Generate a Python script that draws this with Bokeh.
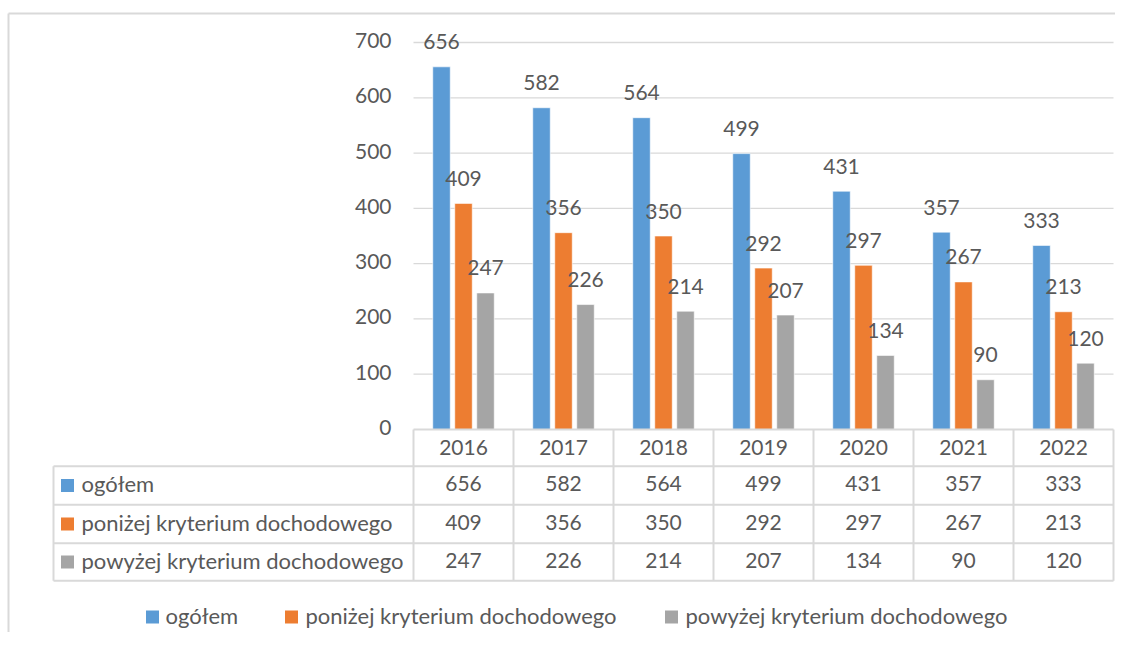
from bokeh.plotting import figure
from bokeh.models import Range1d
from bokeh.core.properties import value
from bokeh.embed import file_html
from bokeh.resources import INLINE

# ---- data ----
years = ["2016", "2017", "2018", "2019", "2020", "2021", "2022"]
series_names = ["ogółem", "poniżej kryterium dochodowego", "powyżej kryterium dochodowego"]
ogolem = [656, 582, 564, 499, 431, 357, 333]
ponizej = [409, 356, 350, 292, 297, 267, 213]
powyzej = [247, 226, 214, 207, 134, 90, 120]
y_ticks = [0, 100, 200, 300, 400, 500, 600, 700]

colors = ["#5B9BD5", "#ED7D31", "#A5A5A5"]
series = [ogolem, ponizej, powyzej]

FONT = value("Lato")
FS_NUM = "21px"
FS_LBL = "22px"
TXT = "#595959"
LINE = "#D9D9D9"

W, H = 1115, 632
ORIGIN = 0.0               # page position of canvas origin
S = 387.0 / 700.0          # px per value unit
def X(px):
    return (px - 413.0) / 100.0
def Y(py):
    return (429.0 - py) / S

p = figure(width=W, height=H, output_backend="svg", toolbar_location=None,
           x_range=Range1d(X(ORIGIN), X(ORIGIN + W)), y_range=Range1d(Y(ORIGIN + H), Y(ORIGIN)),
           min_border=0, min_border_left=0, min_border_right=0,
           min_border_top=0, min_border_bottom=0)
p.axis.visible = False
p.grid.visible = False
p.outline_line_color = None
p.background_fill_color = "white"
p.border_fill_color = "white"

n = len(years)
centers = [i + 0.5 for i in range(n)]

# outer chart border (left and top)
p.segment(x0=[X(8), X(8)], y0=[Y(13), Y(13)], x1=[X(8), X(ORIGIN + W)], y1=[Y(ORIGIN + H), Y(13)],
          line_color=LINE, line_width=2)

# gridlines
grid_vals = [t for t in y_ticks if t > 0]
p.segment(x0=[0] * len(grid_vals), x1=[n] * len(grid_vals), y0=grid_vals, y1=grid_vals,
          line_color=LINE, line_width=1.3)

# y tick labels
p.text(x=[X(391)] * len(y_ticks), y=y_ticks, text=[str(t) for t in y_ticks],
       text_align="right", text_baseline="middle", y_offset=-2, text_font=FONT,
       text_font_size=FS_NUM, text_color=TXT)

# bars + value labels
offsets = [-0.22, 0.0, 0.22]
for vals, col, off in zip(series, colors, offsets):
    xs = [c + off for c in centers]
    p.vbar(x=xs, top=vals, bottom=0, width=0.175, fill_color=col, line_color="white",
           line_width=0.6)
    p.text(x=xs, y=vals, text=[str(v) for v in vals], text_align="center",
           text_baseline="alphabetic", y_offset=-25, text_font=FONT,
           text_font_size=FS_NUM, text_color=TXT)

# ---- data table ----
row_tops = [429.0, 465.7, 504.3, 542.7, 580.3]
p.segment(x0=[0], x1=[n], y0=[0], y1=[0], line_color=LINE, line_width=2)
for ry in row_tops[1:]:
    p.segment(x0=[X(53)], x1=[n], y0=[Y(ry)], y1=[Y(ry)], line_color=LINE, line_width=2)
for i in range(n + 1):
    p.segment(x0=[i], x1=[i], y0=[Y(row_tops[0])], y1=[Y(row_tops[-1])],
              line_color=LINE, line_width=2)
p.segment(x0=[X(53)], x1=[X(53)], y0=[Y(row_tops[1])], y1=[Y(row_tops[-1])],
          line_color=LINE, line_width=2)

hdr_y = Y((row_tops[0] + row_tops[1]) / 2 - 0.5)
p.text(x=centers, y=[hdr_y] * n, text=years, text_align="center", text_baseline="middle",
       text_font=FONT, text_font_size=FS_NUM, text_color=TXT)

for r, (vals, col, name) in enumerate(zip(series, colors, series_names)):
    cy = (row_tops[r + 1] + row_tops[r + 2]) / 2
    p.text(x=centers, y=[Y(cy - 2)] * n, text=[str(v) for v in vals], text_align="center",
           text_baseline="middle", text_font=FONT, text_font_size=FS_NUM, text_color=TXT)
    p.rect(x=[X(67)], y=[Y(cy)], width=13, height=13, width_units="screen",
           height_units="screen", fill_color=col, line_color=None)
    p.text(x=[X(81)], y=[Y(cy - 2)], text=[name], text_align="left", text_baseline="middle",
           text_font=FONT, text_font_size=FS_LBL, text_color=TXT)

# ---- bottom legend ----
leg_y = 616.5
leg_sq = [152, 291, 671]
leg_tx = [165, 305, 685]
for sx, tx, col, name in zip(leg_sq, leg_tx, colors, series_names):
    p.rect(x=[X(sx)], y=[Y(leg_y)], width=13, height=13, width_units="screen",
           height_units="screen", fill_color=col, line_color=None)
    p.text(x=[X(tx)], y=[Y(leg_y - 2)], text=[name], text_align="left", text_baseline="middle",
           text_font=FONT, text_font_size=FS_LBL, text_color=TXT)

open("out.html", "w").write(file_html(p, INLINE))
